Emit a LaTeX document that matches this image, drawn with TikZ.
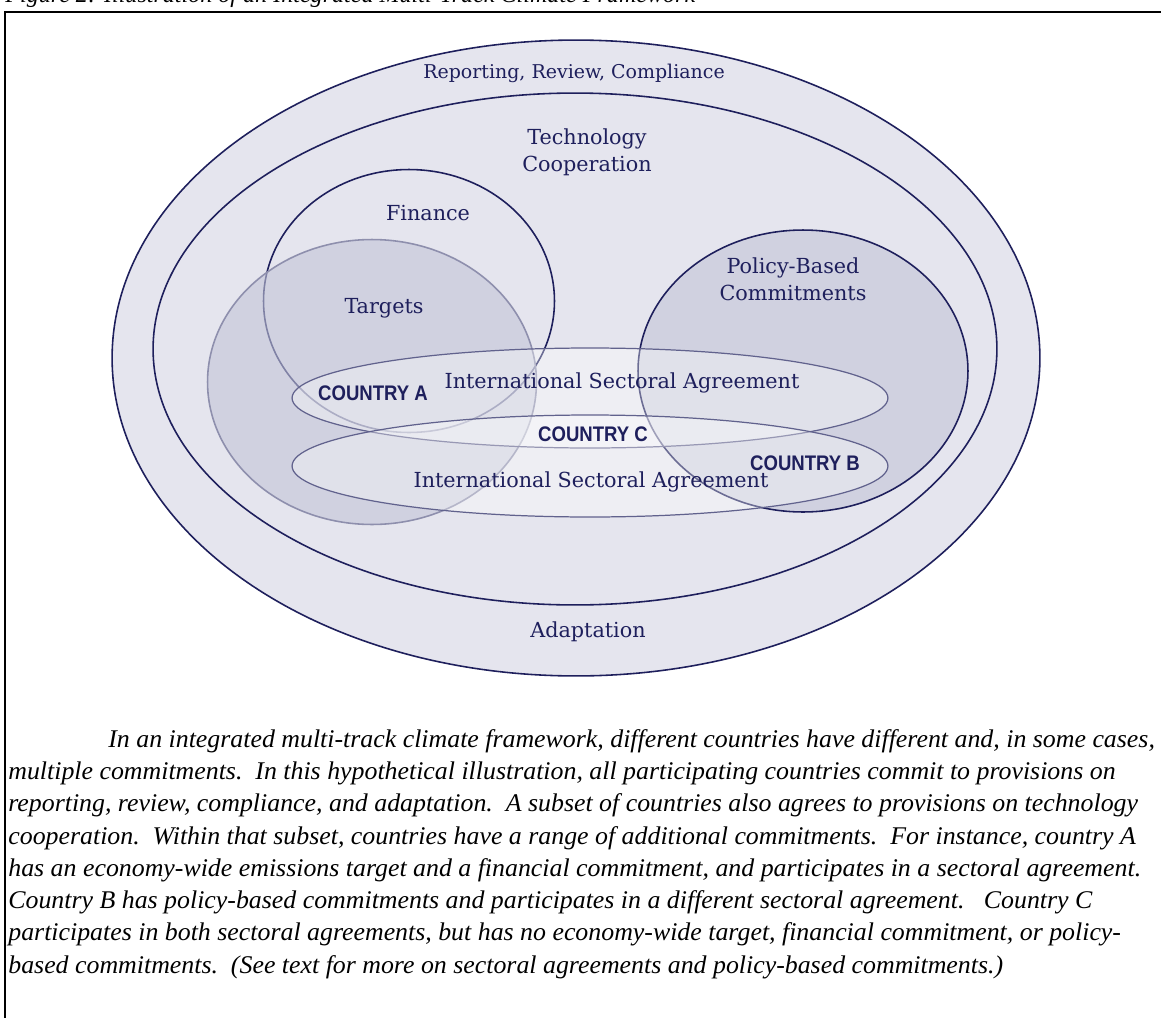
\documentclass[tikz,border=0pt]{standalone}
\usepackage{fontspec}
\setmainfont{DejaVu Serif}
\newfontfamily\capfont[FakeStretch=1.015]{Liberation Serif}
\newfontfamily\cntryfont[FakeStretch=0.88]{Liberation Sans}
\usetikzlibrary{shapes,positioning}

\definecolor{navy}{HTML}{1E1F5C}
\definecolor{lav}{HTML}{E5E5EE}
\definecolor{tgt}{HTML}{C2C4D7}

\begin{document}
\begin{tikzpicture}[x=0.02cm, y=-0.02cm,
  ring/.style={ellipse, draw=navy, line width=0.9pt, inner sep=0pt},
  lbl/.style={text=navy, font=\fontsize{11.8}{15.3}\selectfont, align=center, inner sep=0pt},
  cntry/.style={text=navy, font=\cntryfont\bfseries\fontsize{12}{13}\selectfont, inner sep=0pt}]
\useasboundingbox (0,0) rectangle (1161,1018);
\clip (0,0) rectangle (1161,1018);

% title and frame
\node[anchor=base west, inner sep=0pt, font=\capfont\itshape\fontsize{13.5}{15}\selectfont] (title) at (5,2)
  {Figure 2: Illustration of an Integrated Multi-Track Climate Framework};
\draw[line width=1.4pt] (5,1018) -- (5,12) -- (1161,12);

% outer rings
\node[ring, fill=lav, minimum width=18.56cm, minimum height=12.72cm] (rrc) at (576,358) {};
\node[ring, fill=lav, minimum width=16.88cm, minimum height=10.24cm] (tech) at (575,349) {};

% finance, targets, policy
\node[ring, minimum width=5.82cm, minimum height=5.26cm] (fin) at (409,301) {};
\node[ring, draw=navy!50, fill=tgt, fill opacity=0.6, minimum width=6.58cm, minimum height=5.7cm] (tgts) at (372,382) {};
\node[ring, fill=tgt, fill opacity=0.6, minimum width=6.6cm, minimum height=5.64cm] (pol) at (803,371) {};

% sectoral agreements
\node[ring, draw=navy!70, line width=0.7pt, fill=white, fill opacity=0.35, minimum width=11.92cm, minimum height=2cm] (isa1) at (590,398) {};
\node[ring, draw=navy!70, line width=0.7pt, fill=white, fill opacity=0.35, minimum width=11.92cm, minimum height=2.04cm] (isa2) at (590,466) {};

% labels
\node[lbl, font=\fontsize{10.8}{13}\selectfont] (rrclbl) at (574,73) {Reporting, Review, Compliance};
\node[lbl] (techlbl) at (587,152) {Technology\\Cooperation};
\node[lbl] (finlbl) at (428,213) {Finance};
\node[lbl] (tgtlbl) at (384,308) {Targets};
\node[lbl] (pollbl) at (793,279) {Policy-Based\\Commitments};
\node[lbl] (isa1lbl) at (622,383) {International Sectoral Agreement};
\node[lbl] (isa2lbl) at (591,482) {International Sectoral Agreement};
\node[lbl] (adplbl) at (588,632) {Adaptation};
\node[cntry] (ca) at (373,393) {COUNTRY A};
\node[cntry] (cc) at (593,434) {COUNTRY C};
\node[cntry] (cb) at (805,463) {COUNTRY B};

% caption
\node[anchor=north west, align=left, inner sep=0pt, font=\capfont\itshape\fontsize{14.5}{18.37}\selectfont] (caption) at (8,729) {%
\hspace*{2.0cm}In an integrated multi-track climate framework, different countries have different and, in some cases,\\
multiple commitments.\ \ In this hypothetical illustration, all participating countries commit to provisions on\\
reporting, review, compliance, and adaptation.\ \ A subset of countries also agrees to provisions on technology\\
cooperation.\ \ Within that subset, countries have a range of additional commitments.\ \ For instance, country A\\
has an economy-wide emissions target and a financial commitment, and participates in a sectoral agreement.\\
Country B has policy-based commitments and participates in a different sectoral agreement.\ \ \ Country C\\
participates in both sectoral agreements, but has no economy-wide target, financial commitment, or policy-\\
based commitments.\ \ (See text for more on sectoral agreements and policy-based commitments.)};
\end{tikzpicture}
\end{document}
